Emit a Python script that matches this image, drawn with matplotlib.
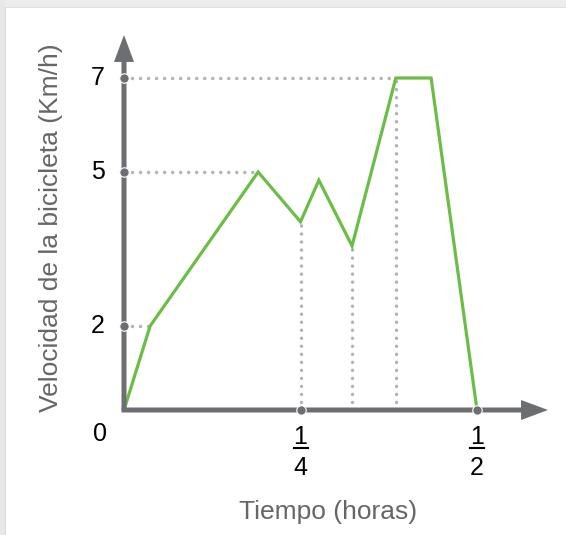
import numpy as np
import matplotlib
matplotlib.use('Agg')
from matplotlib import pyplot as plt
from matplotlib.patches import Rectangle

# time (hours) and speed (km/h)
tiempo = [0.0, 0.037, 0.190, 0.250, 0.276, 0.323, 0.385, 0.435, 0.5]
velocidad = [0.0, 2.0, 5.0, 4.03, 4.84, 3.56, 7.0, 7.0, 0.0]

y_ticks = [2, 5, 7]
x_ticks = [0.25, 0.5]
x_tick_den = ['4', '2']

# guide lines: horizontal ones go to a point of the curve, vertical ones drop to the axis
h_guides = [(2.0, 0.037), (5.0, 0.190), (7.0, 0.385)]
v_guides = [(0.250, 4.03), (0.323, 3.56), (0.385, 7.0)]

GRAY = '#6d6e71'
DOT = '#b3b3b5'
GREEN = '#6cbd45'
FONT = 'Liberation Sans'

# the drawing is not to scale on the speed axis, so a piecewise scale is used
SCALE_V = [-5, 0, 2, 5, 7, 12]
SCALE_P = [-210, 0, 84, 238, 332, 567]


def fwd(v):
	return np.interp(v, SCALE_V, SCALE_P)


def inv(p):
	return np.interp(p, SCALE_P, SCALE_V)


W, H = 566, 535
fig = plt.figure(figsize=(W / 100, H / 100), dpi=100)
fig.patch.set_facecolor('white')

# light frame on top and left edge
fig.add_artist(Rectangle((0, 1 - 7 / H), 1, 7 / H, transform=fig.transFigure, color='#ededed', lw=0))
fig.add_artist(Rectangle((0, 0), 5 / W, 1, transform=fig.transFigure, color='#e8e8e8', lw=0))
fig.add_artist(Rectangle((5 / W, 0), 1 / W, 1 - 7 / H, transform=fig.transFigure, color='#dcdcdc', lw=0))
fig.add_artist(Rectangle((5 / W, 1 - 8 / H), 1, 1 / H, transform=fig.transFigure, color='#e0e0e0', lw=0))

ax = fig.add_axes([124 / W, (H - 410) / H, 436 / W, 380 / H])
ax.set_yscale('function', functions=(fwd, inv))
ax.set_xlim(0, 436 / 706)
ax.set_ylim(0, inv(380))
ax.axis('off')

# dotted guides
dot_kw = dict(color=DOT, lw=2.5, linestyle=(0, (0.01, 2.3)), dash_capstyle='round', clip_on=False, zorder=1)
for yv, xv in h_guides:
	ax.plot([0, xv], [yv, yv], **dot_kw)
for xv, yv in v_guides:
	ax.plot([xv, xv], [0, yv], **dot_kw)

# speed curve
ax.plot(tiempo, velocidad, color=GREEN, lw=2.3, solid_joinstyle='miter', clip_on=False, zorder=2)

# axes with arrow heads
arrow = dict(arrowstyle='simple,head_length=19.4,head_width=14.4,tail_width=3.6',
			 mutation_scale=1, color=GRAY, lw=0, shrinkA=0, shrinkB=0)
ax.annotate('', xy=(424 / 706, 0), xytext=(-0.0035, 0), arrowprops=arrow, annotation_clip=False, zorder=3)
ax.annotate('', xy=(0, inv(375)), xytext=(0, 0), arrowprops=arrow, annotation_clip=False, zorder=3)

# dots on the axes
ax.plot([0] * len(y_ticks), y_ticks, 'o', ms=6.8, mfc=GRAY, mec='white', mew=0.8, clip_on=False, zorder=4)
ax.plot(x_ticks, [0] * len(x_ticks), 'o', ms=6.8, mfc=GRAY, mec='white', mew=0.8, clip_on=False, zorder=4)

# tick labels
for yv in y_ticks:
	ax.annotate(str(yv), (0, yv), xytext=(-19, 0), textcoords='offset points',
				ha='center', va='center', fontsize=18, family=FONT, annotation_clip=False)
ax.annotate('0', (0, 0), xytext=(-17.3, -17.3), textcoords='offset points',
			ha='center', va='center', fontsize=18, family=FONT, annotation_clip=False)

for xv, den in zip(x_ticks, x_tick_den):
	ax.annotate('1', (xv, 0), xytext=(0, -19.1), textcoords='offset points',
				ha='center', va='center', fontsize=18, family=FONT, annotation_clip=False)
	ax.annotate(den, (xv, 0), xytext=(0, -41.8), textcoords='offset points',
				ha='center', va='center', fontsize=18, family=FONT, annotation_clip=False)
	# fraction bar
	bx, by = ax.transData.transform((xv, 0))
	fig.add_artist(plt.Line2D([(bx - 7) / W, (bx + 7) / W], [(by - 38) / H, (by - 38) / H],
							  color='black', lw=1.5))

# axis titles
fig.text(51 / W, 1 - 228 / H, 'Velocidad de la bicicleta (Km/h)', rotation=90,
		 ha='center', va='center', fontsize=19, color='#666666', family=FONT)
fig.text(328 / W, 1 - 512 / H, 'Tiempo (horas)', ha='center', va='center',
		 fontsize=19, color='#666666', family=FONT)

fig.savefig('out.png', dpi=100)
